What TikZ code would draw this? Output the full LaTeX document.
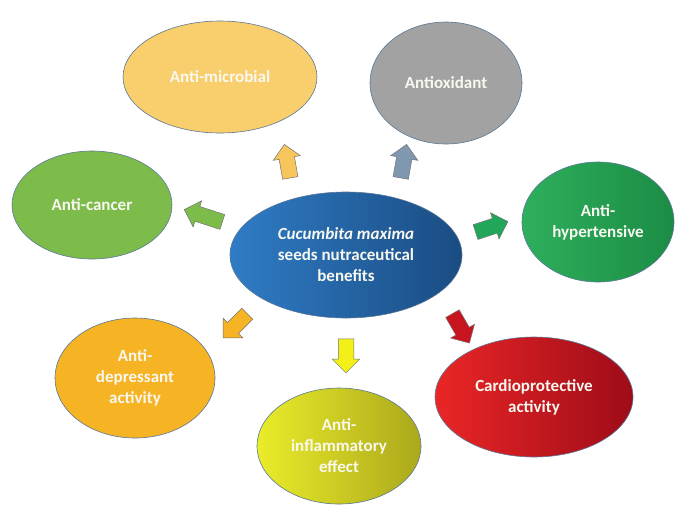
\documentclass[tikz,border=0pt]{standalone}
\usepackage{fontspec}
\setmainfont{Carlito}
\usetikzlibrary{shapes.geometric,shapes.arrows}
\definecolor{edgeblue}{HTML}{5A7896}
\definecolor{cmid1}{HTML}{2F7CC6}
\definecolor{cmid2}{HTML}{1A4C82}
\definecolor{microbial}{HTML}{F8CF6C}
\definecolor{oxid}{HTML}{A2A2A2}
\definecolor{cancer}{HTML}{7DBB4A}
\definecolor{hyp1}{HTML}{2EAF5C}
\definecolor{hyp2}{HTML}{1C8C45}
\definecolor{depress}{HTML}{F6B324}
\definecolor{infl1}{HTML}{EAEC2A}
\definecolor{infl2}{HTML}{ABA81C}
\definecolor{cardio1}{HTML}{EA2626}
\definecolor{cardio2}{HTML}{9E0C18}
\definecolor{arrmic}{HTML}{F6C65C}
\definecolor{arrox}{HTML}{8097B0}
\definecolor{arrhyp}{HTML}{22A65A}
\definecolor{arryel}{HTML}{F2F018}
\definecolor{arrred}{HTML}{C8141E}
\definecolor{txt}{HTML}{F8F8F0}
\tikzset{
  benefit/.style={ellipse, draw=edgeblue, line width=0.6pt, inner sep=0pt,
    text=txt, font=\fontsize{17}{21}\selectfont\bfseries, align=center},
  barrow/.style={single arrow, draw=black!55, line width=0.5pt,
    minimum height=34pt, inner sep=7.5pt, single arrow head extend=6pt,
    single arrow head indent=0pt}
}
\begin{document}
\begin{tikzpicture}[x=1pt,y=-1pt]
\useasboundingbox[fill=white] (0,0) rectangle (676,504);
% centre
\node[benefit, minimum width=232pt, minimum height=126pt,
  left color=cmid1, right color=cmid2] (c) at (346,255)
  {\textit{Cucumbita maxima}\\seeds nutraceutical\\benefits};
% outer ellipses
\node[benefit, minimum width=194pt, minimum height=112pt, fill=microbial] (mic) at (220,77) {Anti-microbial};
\node[benefit, minimum width=152pt, minimum height=122pt, fill=oxid] (ox) at (446,83) {Antioxidant};
\node[benefit, minimum width=160pt, minimum height=108pt, fill=cancer] (can) at (92,205) {Anti-cancer};
\node[benefit, minimum width=152pt, minimum height=120pt, left color=hyp1, right color=hyp2] (hyp) at (598,222) {Anti-\\hypertensive};
\node[benefit, minimum width=160pt, minimum height=120pt, fill=depress] (dep) at (135,378) {Anti-\\depressant\\activity};
\node[benefit, minimum width=164pt, minimum height=116pt, left color=infl1, right color=infl2] (inf) at (339,446) {Anti-\\inflammatory\\effect};
\node[benefit, minimum width=198pt, minimum height=120pt, left color=cardio1, right color=cardio2] (car) at (534,397) {Cardioprotective\\activity};
% block arrows
\node[barrow, fill=arrmic, rotate=100] (a1) at (288,165) {};
\node[barrow, fill=arrox, rotate=80] (a2) at (403,165) {};
\node[barrow, fill=cancer, rotate=162, minimum height=40pt] (a3) at (207,217) {};
\node[barrow, fill=arrhyp, rotate=18] (a4) at (488,228) {};
\node[barrow, fill=depress, rotate=225] (a5) at (238,323) {};
\node[barrow, fill=arryel, rotate=270] (a6) at (346,352) {};
\node[barrow, fill=arrred, rotate=300] (a7) at (459,325) {};
\end{tikzpicture}
\end{document}
